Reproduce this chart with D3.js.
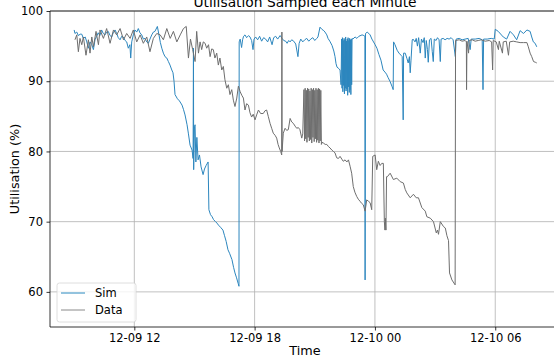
<!DOCTYPE html>
<html>
<head>
<meta charset="utf-8">
<script src="https://cdn.jsdelivr.net/npm/d3@7"></script>
<style>
  body { margin: 0; background: #fff; }
  text { font-family: "DejaVu Sans", sans-serif; }
</style>
</head>
<body>
<div id="chart"></div>
<script>
// hours counted from 12-09 00:00, one reading per point
const simHours = [9.00, 9.04, 9.13, 9.21, 9.30, 9.38, 9.46, 9.55, 9.63, 9.71, 9.79, 9.88, 9.96, 10.04, 10.12, 10.20, 10.28, 10.37, 10.45, 10.54, 10.62, 10.70, 10.79, 10.87, 10.95, 11.04, 11.12, 11.20, 11.29, 11.37, 11.45, 11.54, 11.62, 11.70, 11.78, 11.82, 11.87, 11.95, 12.03, 12.12, 12.20, 12.28, 12.37, 12.45, 12.53, 12.62, 12.70, 12.78, 12.87, 12.95, 13.03, 13.15, 13.23, 13.30, 13.37, 13.45, 13.53, 13.62, 13.70, 13.78, 13.87, 13.93, 13.98, 14.03, 14.15, 14.25, 14.38, 14.45, 14.53, 14.63, 14.70, 14.78, 14.88, 14.93, 14.95, 14.96, 15.00, 15.03, 15.07, 15.12, 15.18, 15.25, 15.33, 15.43, 15.50, 15.58, 15.68, 15.72, 15.80, 15.88, 15.95, 16.05, 16.12, 16.20, 16.30, 16.42, 16.50, 16.58, 16.67, 16.75, 16.87, 16.95, 17.02, 17.10, 17.18, 17.22,
  17.23, 17.28, 17.35, 17.40, 17.45, 17.52, 17.60, 17.70, 17.77, 17.85, 17.92, 17.97, 18.05, 18.15, 18.25, 18.35, 18.45, 18.55, 18.65, 18.75, 18.87, 18.95, 19.05, 19.15, 19.27, 19.37, 19.45, 19.55, 19.62, 19.70, 19.77, 19.85, 19.95, 20.05, 20.16, 20.22, 20.30, 20.40, 20.50, 20.60, 20.70, 20.80, 20.90, 21.00, 21.10, 21.16, 21.26, 21.35, 21.45, 21.51, 21.60, 21.66, 21.75, 21.86, 21.95, 22.01, 22.06, 22.11, 22.20, 22.26, 22.31,
  22.34, 22.36, 22.38, 22.40, 22.42, 22.44, 22.46, 22.48, 22.50, 22.52, 22.54, 22.56, 22.58, 22.60, 22.62, 22.64, 22.66, 22.68, 22.70, 22.72, 22.74, 22.76, 22.78, 22.80, 22.82, 22.84, 22.86,
  22.90, 23.01, 23.10, 23.20, 23.36, 23.45, 23.50, 23.51, 23.53, 23.62, 23.76, 23.85, 24.01, 24.10, 24.20, 24.30, 24.41, 24.50, 24.58, 24.66, 24.75, 24.86, 24.91, 24.93, 25.00, 25.11, 25.20, 25.30, 25.36, 25.41, 25.43, 25.51, 25.60, 25.66, 25.72, 25.76, 25.80, 25.86, 25.90, 26.00, 26.06, 26.12, 26.18, 26.26, 26.32, 26.40, 26.46, 26.51, 26.56, 26.62, 26.66, 26.72, 26.80, 26.86, 26.91, 26.96, 27.05, 27.12, 27.20, 27.26, 27.30, 27.40, 27.50, 27.60, 27.70, 27.80, 27.90, 28.01, 28.05, 28.20, 28.35, 28.50, 28.65, 28.75, 28.80, 29.00, 29.20, 29.35, 29.39, 29.42, 29.60, 29.80, 29.95,
  30.00, 30.15, 30.40, 30.57, 30.74, 30.91, 31.07, 31.24, 31.41, 31.58, 31.74, 31.82, 31.90, 31.99, 32.07];
const simUtil = [97.3, 96.8, 97.0, 96.5, 96.7, 96.7, 96.1, 96.3, 95.6, 94.7, 95.6, 95.2, 94.5, 95.9, 96.4, 96.9, 96.5, 97.3, 96.8, 96.6, 97.0, 97.1, 96.5, 96.3, 96.9, 97.3, 96.8, 96.2, 95.9, 96.4, 96.3, 95.8, 95.6, 94.7, 95.2, 93.3, 95.6, 96.6, 97.3, 97.0, 97.5, 96.9, 96.6, 96.0, 96.1, 95.6, 95.4, 96.0, 96.6, 97.0, 97.1, 97.8, 96.6, 95.5, 94.7, 94.0, 93.5, 93.3, 92.8, 92.3, 91.6, 91.2, 90.0, 88.1, 87.5, 87.2, 86.6, 86.0, 85.2, 83.8, 82.5, 80.9, 80.2, 79.0, 94.7, 77.4, 83.5, 83.8, 78.5, 82.0, 78.8, 79.5, 77.8, 76.7, 77.5, 78.0, 78.5, 71.7, 71.0, 70.7, 70.3, 70.0, 69.8, 69.5, 69.2, 68.8, 68.0, 67.2, 66.0, 65.5, 64.6, 63.5, 62.7, 62.0, 61.2, 60.8,
  95.6, 96.0, 94.8, 95.9, 96.4, 96.6, 96.2, 96.5, 96.3, 95.8, 94.5, 96.0, 96.3, 95.9, 96.4, 95.7, 96.2, 96.0, 95.6, 96.3, 95.2, 96.2, 96.4, 96.0, 96.5, 96.1, 95.8, 95.7, 95.4, 95.8, 95.6, 95.9, 95.7, 95.3, 93.5, 95.4, 96.0, 95.6, 95.9, 96.1, 95.7, 96.0, 96.2, 95.8, 96.1, 96.3, 97.7, 97.4, 97.2, 97.0, 96.6, 96.1, 95.7, 95.1, 94.3, 93.5, 92.5, 92.0, 91.8, 91.6, 89.5,
  96.0, 89.0, 96.2, 88.5, 95.8, 89.4, 96.1, 88.2, 95.9, 89.0, 96.3, 88.6, 95.7, 88.9, 96.0, 88.0, 96.2, 89.2, 95.8, 88.4, 96.1, 88.8, 95.9, 88.1, 96.0, 89.5, 96.1,
  96.0, 96.3, 96.1, 96.4, 96.6, 96.5, 96.4, 61.7, 96.8, 97.0, 96.6, 96.0, 95.2, 94.7, 93.8, 93.0, 91.6, 91.3, 91.0, 90.5, 90.0, 89.2, 88.8, 95.6, 95.2, 94.4, 94.0, 93.7, 93.5, 84.5, 94.0, 94.0, 93.2, 92.6, 93.5, 91.2, 93.0, 95.9, 96.0, 95.6, 96.1, 95.0, 96.2, 94.0, 96.0, 95.5, 96.2, 93.3, 95.8, 94.5, 92.7, 95.9, 96.1, 94.2, 92.8, 96.0, 95.8, 96.2, 95.9, 92.8, 96.0, 96.1, 95.9, 96.1, 96.0, 96.2, 95.9, 93.5, 96.0, 96.1, 95.9, 96.0, 96.1, 94.5, 96.0, 96.0, 96.1, 95.9, 88.8, 96.0, 96.0, 96.1, 96.0,
  97.4, 97.1, 96.3, 96.0, 97.1, 96.6, 95.9, 97.2, 96.8, 97.3, 97.1, 96.3, 95.6, 95.4, 94.9];

const dataHours = [9.04, 9.13, 9.21, 9.29, 9.38, 9.46, 9.59, 9.71, 9.79, 9.88, 9.96, 10.09, 10.21, 10.29, 10.46, 10.62, 10.79, 10.96, 11.12, 11.29, 11.46, 11.62, 11.79, 11.95, 12.12, 12.29, 12.45, 12.62, 12.78, 12.95, 13.12, 13.29, 13.45, 13.62, 13.79, 13.95, 14.12, 14.29, 14.45, 14.59, 14.70, 14.80, 14.91, 15.03, 15.11, 15.20, 15.28, 15.36, 15.44, 15.53, 15.61, 15.70, 15.78, 15.86, 15.94, 16.02, 16.11, 16.19, 16.27, 16.36, 16.44, 16.52, 16.61, 16.69, 16.77, 16.86, 16.94,
  17.02, 17.11, 17.19, 17.28, 17.36, 17.44, 17.52, 17.60, 17.69, 17.77, 17.85, 17.93, 18.02, 18.10, 18.19, 18.30, 18.43, 18.52, 18.60, 18.68, 18.77, 18.85, 18.93, 19.02, 19.10, 19.17, 19.23, 19.30, 19.35, 19.36, 19.37, 19.43, 19.52, 19.60, 19.68, 19.77, 19.85, 19.93, 20.02, 20.10, 20.18, 20.26, 20.35, 20.40,
  20.46, 20.49, 20.52, 20.55, 20.58, 20.61, 20.64, 20.67, 20.70, 20.73, 20.76, 20.79, 20.82, 20.85, 20.88, 20.91, 20.94, 20.97, 21.00, 21.03, 21.06, 21.09, 21.12, 21.15, 21.18, 21.21, 21.24, 21.27, 21.30, 21.33, 21.36,
  21.43, 21.52, 21.60, 21.68, 21.76, 21.85, 21.93, 22.01, 22.09, 22.18, 22.26, 22.35, 22.42, 22.51, 22.60, 22.68, 22.76, 22.84, 22.92, 23.00, 23.09, 23.17, 23.26, 23.34, 23.42, 23.51, 23.59, 23.68, 23.76, 23.84, 23.89, 24.01, 24.09, 24.17, 24.26, 24.34, 24.42, 24.47, 24.50, 24.52, 24.55, 24.58, 24.62, 24.76, 24.92, 25.09, 25.26, 25.42, 25.51, 25.59, 25.76, 25.92, 26.06, 26.17, 26.34, 26.51, 26.59, 26.76, 26.92, 27.06, 27.12, 27.17, 27.26, 27.42, 27.51, 27.59, 27.67, 27.72, 27.84, 28.00,
  28.02, 28.20, 28.35, 28.50, 28.56, 28.57, 28.59, 28.67, 28.70, 28.85, 29.00, 29.15, 29.30, 29.50, 29.70, 29.82, 29.87, 29.90, 30.05, 30.16, 30.20, 30.36, 30.40, 30.55, 30.66, 30.72, 30.90, 31.07, 31.24, 31.41, 31.58, 31.65, 31.74, 31.82, 31.91, 32.00, 32.07];
const dataUtil = [95.9, 96.6, 94.2, 96.1, 95.2, 96.3, 93.7, 95.9, 94.0, 96.3, 94.9, 97.1, 95.2, 97.3, 96.1, 97.5, 95.4, 97.3, 96.6, 97.5, 95.9, 96.8, 96.1, 97.3, 95.6, 96.6, 95.4, 96.3, 94.2, 96.1, 96.8, 96.6, 95.9, 97.5, 96.1, 97.1, 95.6, 96.6, 97.5, 97.8, 93.3, 96.0, 94.5, 92.8, 97.1, 94.0, 95.6, 94.5, 95.6, 95.4, 94.7, 95.2, 93.5, 94.6, 94.5, 93.3, 94.0, 92.3, 93.3, 91.6, 92.1, 90.2, 89.0, 89.5, 88.1, 88.8, 87.3,
  86.4, 87.6, 89.3, 88.5, 88.0, 87.6, 85.9, 86.8, 86.6, 85.5, 84.9, 85.3, 84.5, 85.2, 85.9, 85.4, 85.4, 85.8, 85.9, 85.0, 84.0, 83.3, 82.6, 82.3, 81.9, 81.0, 80.5, 80.0, 79.5, 97.0, 80.0, 82.6, 83.3, 83.0, 83.1, 84.7, 84.2, 84.0, 83.6, 83.3, 83.4, 83.1, 81.9, 82.5,
  88.8, 81.5, 89.0, 81.8, 88.7, 81.3, 89.0, 82.0, 88.9, 81.5, 88.6, 81.7, 89.0, 81.2, 88.8, 82.0, 89.0, 81.4, 88.7, 81.8, 89.0, 81.3, 88.8, 81.6, 89.0, 81.2, 88.9, 81.5, 88.7, 81.0, 81.3,
  81.2, 81.0, 81.0, 80.7, 80.5, 80.2, 80.0, 79.8, 79.1, 79.0, 79.3, 78.9, 78.6, 78.8, 78.5, 78.8, 77.9, 76.9, 75.0, 74.2, 73.6, 73.2, 72.9, 72.6, 72.4, 71.5, 73.1, 72.9, 72.7, 71.7, 79.3, 79.5, 77.4, 78.6, 78.0, 78.3, 78.3, 70.0, 68.8, 70.5, 68.8, 76.4, 76.4, 76.9, 76.0, 76.2, 75.7, 75.5, 74.6, 74.1, 73.4, 73.9, 73.4, 73.4, 72.0, 71.5, 70.7, 70.5, 70.0, 68.4, 68.8, 68.2, 70.0, 69.3, 69.1, 68.0, 67.3, 62.7, 61.7, 61.0,
  95.8, 95.9, 95.7, 95.8, 95.6, 88.8, 95.7, 94.0, 95.8, 95.9, 95.7, 95.8, 95.9, 95.7, 95.8, 95.6, 91.6, 95.8, 95.6, 94.5, 95.7, 94.0, 95.6, 95.7, 93.7, 95.6, 95.7, 95.6, 95.5, 95.5, 95.5, 94.9, 94.0, 93.5, 92.8, 92.7, 92.6];

const yTicks = [60, 70, 80, 90, 100];
const xTicks = ["2022-12-09 12", "2022-12-09 18", "2022-12-10 00", "2022-12-10 06"];
const seriesNames = ["Sim", "Data"];

const W = 554, H = 357;
const plotL = 50, plotR = 560, plotT = 11, plotB = 327;

const start = new Date(2022, 11, 9, 0, 0);
const toTime = h => new Date(+start + h * 36e5);
const parseTick = d3.timeParse("%Y-%m-%d %H");

const x = d3.scaleTime()
  .domain([toTime(7.795), toTime(33.23)])
  .range([plotL, plotR]);
const y = d3.scaleLinear()
  .domain([55, 100])
  .range([plotB, plotT]);

const svg = d3.select("#chart").append("svg")
  .attr("width", W)
  .attr("height", H);

// grid
svg.append("g").selectAll("line")
  .data(xTicks.map(parseTick))
  .enter().append("line")
  .attr("x1", d => x(d)).attr("x2", d => x(d))
  .attr("y1", plotT).attr("y2", plotB)
  .attr("stroke", "#b0b0b0").attr("stroke-width", 0.8);
svg.append("g").selectAll("line")
  .data(yTicks)
  .enter().append("line")
  .attr("x1", plotL).attr("x2", plotR)
  .attr("y1", d => y(d)).attr("y2", d => y(d))
  .attr("stroke", "#b0b0b0").attr("stroke-width", 0.8);

const line = d3.line()
  .x(d => x(toTime(d[0])))
  .y(d => y(d[1]));

const simPts = simHours.map((h, i) => [h, simUtil[i]]);
const dataPts = dataHours.map((h, i) => [h, dataUtil[i]]);

svg.append("path").datum(simPts)
  .attr("d", line).attr("fill", "none")
  .attr("stroke", "#2c86be").attr("stroke-width", 1);
svg.append("path").datum(dataPts)
  .attr("d", line).attr("fill", "none")
  .attr("stroke", "#6e6e6e").attr("stroke-width", 1);

// axes
const xAxis = svg.append("g")
  .attr("transform", `translate(0,${plotB})`)
  .call(d3.axisBottom(x).tickValues(xTicks.map(parseTick))
    .tickFormat(d3.timeFormat("%m-%d %H")).tickSize(3.5).tickPadding(3.5).tickSizeOuter(0));
const yAxis = svg.append("g")
  .attr("transform", `translate(${plotL},0)`)
  .call(d3.axisLeft(y).tickValues(yTicks).tickSize(3.5).tickPadding(3.5).tickSizeOuter(0));
[xAxis, yAxis].forEach(g => {
  g.select(".domain").remove();
  g.selectAll("text").attr("font-size", 11.5).attr("fill", "#000")
    .attr("font-family", "DejaVu Sans");
  g.selectAll(".tick line").attr("stroke", "#000").attr("stroke-width", 0.8);
});

// spines
svg.append("line").attr("x1", plotL).attr("x2", plotL).attr("y1", plotT).attr("y2", plotB)
  .attr("stroke", "#000").attr("stroke-width", 0.8);
svg.append("line").attr("x1", plotL).attr("x2", plotR).attr("y1", plotB).attr("y2", plotB)
  .attr("stroke", "#000").attr("stroke-width", 0.8);
svg.append("line").attr("x1", plotL).attr("x2", plotR).attr("y1", plotT).attr("y2", plotT)
  .attr("stroke", "#000").attr("stroke-width", 0.8);

// labels
svg.append("text")
  .attr("x", (plotL + plotR) / 2).attr("y", 7)
  .attr("text-anchor", "middle").attr("font-size", 13.8)
  .text("Utilisation Sampled each Minute");
svg.append("text")
  .attr("x", (plotL + plotR) / 2).attr("y", 354.5)
  .attr("text-anchor", "middle").attr("font-size", 12.8)
  .text("Time");
svg.append("text")
  .attr("transform", `translate(18.5,${(plotT + plotB) / 2}) rotate(-90)`)
  .attr("text-anchor", "middle").attr("font-size", 12.8)
  .text("Utilisation (%)");

// legend
const legend = svg.append("g");
legend.append("rect")
  .attr("x", 57).attr("y", 283).attr("width", 79).attr("height", 39)
  .attr("rx", 2.5).attr("fill", "#fff").attr("fill-opacity", 0.8)
  .attr("stroke", "#d5d5d5").attr("stroke-width", 0.8);
const items = legend.selectAll(".item")
  .data(seriesNames)
  .enter().append("g")
  .attr("class", "item")
  .attr("transform", (d, i) => `translate(0,${293 + i * 17})`);
items.append("line")
  .attr("x1", 61).attr("x2", 85)
  .attr("stroke", (d, i) => i === 0 ? "#93c3de" : "#8a8a8a")
  .attr("stroke-width", (d, i) => i === 0 ? 2 : 1);
items.append("text")
  .attr("x", 95).attr("y", 4)
  .attr("font-size", 11.5)
  .text(d => d);
</script>
</body>
</html>
